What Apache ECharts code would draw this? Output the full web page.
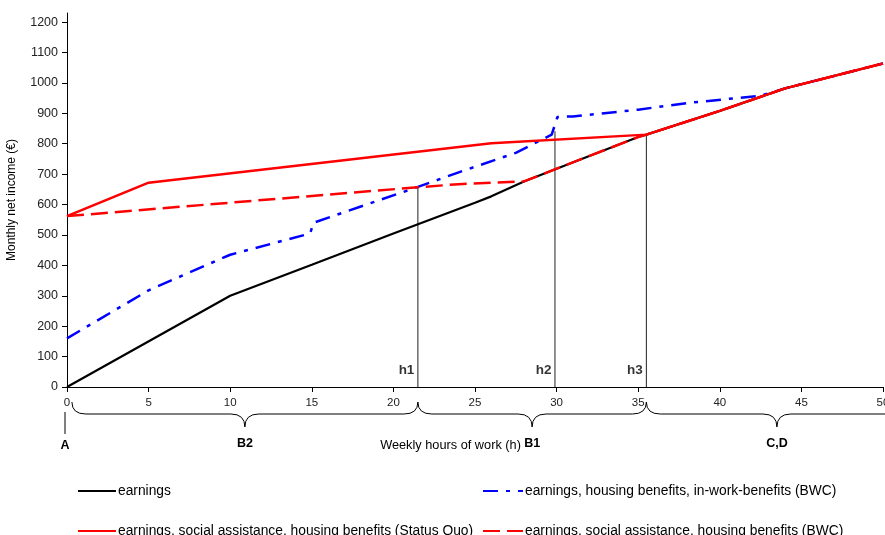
<!DOCTYPE html>
<html><head><meta charset="utf-8">
<script src="https://cdn.jsdelivr.net/npm/echarts@6/dist/echarts.min.js"></script>
<style>html,body{margin:0;padding:0;background:#fff}#c{width:885px;height:535px}</style>
</head><body><div id="c"></div>
<script>
// ---- data ----
const yTicks = [0,100,200,300,400,500,600,700,800,900,1000,1100,1200];
const xTicks = [0,5,10,15,20,25,30,35,40,45,50];
const earnings = [[0,0],[10,300],[15,402],[20,505],[25,606],[26,627],[28,676],[30,718],[35,822],[35.5,830],[40,908],[44,982],[50,1064]];
const blueBWC = [[0,160],[5,318],[10,435],[14.9,505],[15.1,540],[21.5,658],[24,706],[27.5,770],[29.7,830],[30.05,888],[31,890],[35,912],[38,934],[42.5,958],[44,982],[50,1064]];
const redStatusQuo = [[0,562],[5,672],[26,802],[35.5,830],[40,908],[44,982],[50,1064]];
const redBWC = [[0,562],[21.5,657],[24,667],[28,676],[30,718],[35,822],[35.5,830],[40,908],[44,982],[50,1064]];
const thresholds = [{name:'h1',x:21.5,top:658},{name:'h2',x:29.9,top:841},{name:'h3',x:35.5,top:830}];
const ranges = [{name:'B2',from:0.3,to:21.5},{name:'B1',from:21.5,to:35.5},{name:'C,D',from:35.5,to:51.5}];
const names = ['earnings','earnings, housing benefits, in-work-benefits (BWC)','earnings, social assistance, housing benefits (Status Quo)','earnings, social assistance, housing benefits (BWC)'];

const FONT = '"Liberation Sans", Arial, sans-serif';
const chart = echarts.init(document.getElementById('c'));

function legend(name, left, top, w){
  return {data:[name], left:left, top:top, itemWidth:w, itemHeight:10, itemGap:0, padding:0,
    itemStyle:{opacity:0}, textStyle:{fontFamily:FONT, fontSize:13.8, color:'#000', padding:[0,0,0,-3]}, selectedMode:false};
}

const series = [
  {name:names[0], type:'line', data:earnings, symbol:'none', lineStyle:{color:'#000', width:2.2}, itemStyle:{color:'#000'}, z:2},
  {name:names[1], type:'line', data:blueBWC, symbol:'none', lineStyle:{color:'#0000ff', width:2.5, type:[15,8,4,8]}, itemStyle:{color:'#0000ff'}, z:3},
  {name:names[3], type:'line', data:redBWC, symbol:'none', lineStyle:{color:'#ff0000', width:2.5, type:[17,7]}, itemStyle:{color:'#ff0000'}, z:4},
  {name:names[2], type:'line', data:redStatusQuo, symbol:'none', lineStyle:{color:'#ff0000', width:2.5}, itemStyle:{color:'#ff0000'}, z:5}
];
thresholds.forEach(t => {
  series.push({type:'line', data:[[t.x,0],[t.x,t.top]], symbol:'none', lineStyle:{color:'#222', width:1}, z:1, silent:true});
  series.push({type:'scatter', data:[[t.x,55]], symbolSize:1, itemStyle:{color:'rgba(0,0,0,0)'}, silent:true,
    label:{show:true, position:'left', distance:3, formatter:t.name, fontFamily:FONT, fontSize:13.5, fontWeight:'bold', color:'#000'}});
});

chart.setOption({
  animation:false,
  grid:{left:67, right:2, top:13, bottom:148, outerBoundsMode:'none', containLabel:false},
  xAxis:{type:'value', min:0, max:50, interval:5,
    axisLine:{lineStyle:{color:'#000'}}, axisTick:{length:5, lineStyle:{color:'#000'}},
    axisLabel:{fontFamily:FONT, fontSize:11.5, color:'#222', margin:10, customValues:xTicks, formatter:v=>String(v)},
    splitLine:{show:false}},
  yAxis:{type:'value', min:0, max:1230, interval:100,
    name:'Monthly net income (€)', nameLocation:'middle', nameGap:49, nameRotate:90,
    nameTextStyle:{fontFamily:FONT, fontSize:12, color:'#000'},
    axisLine:{show:true, lineStyle:{color:'#000'}}, axisTick:{show:true, length:5, lineStyle:{color:'#000'}, customValues:yTicks},
    axisLabel:{fontFamily:FONT, fontSize:12.5, color:'#222', margin:9, customValues:yTicks, formatter:v=>String(v)},
    splitLine:{show:false}},
  legend:[legend(names[0],77,484,38), legend(names[1],482,484,40), legend(names[2],77,524,38), legend(names[3],482,524,40)],
  series:series
});

// annotations below the axis (braces and range labels), positioned with the axis scale
const g = [];
const p0 = chart.convertToPixel({gridIndex:0},[0,0]);
const axisY = p0[1];
const y0 = axisY+15, yb = axisY+27, ytip = axisY+40, r = 14;
const st = {stroke:'#000', lineWidth:1, fill:null};
ranges.forEach(rg => {
  const x1 = chart.convertToPixel({gridIndex:0},[rg.from,0])[0];
  const x2 = chart.convertToPixel({gridIndex:0},[rg.to,0])[0];
  const xc = (x1+x2)/2;
  g.push({type:'bezierCurve', shape:{x1:x1,y1:y0,cpx1:x1,cpy1:yb,x2:x1+r,y2:yb}, style:st});
  g.push({type:'line', shape:{x1:x1+r,y1:yb,x2:xc-r,y2:yb}, style:st});
  g.push({type:'bezierCurve', shape:{x1:xc-r,y1:yb,cpx1:xc,cpy1:yb,x2:xc,y2:ytip}, style:st});
  g.push({type:'bezierCurve', shape:{x1:xc,y1:ytip,cpx1:xc,cpy1:yb,x2:xc+r,y2:yb}, style:st});
  g.push({type:'line', shape:{x1:xc+r,y1:yb,x2:x2-r,y2:yb}, style:st});
  g.push({type:'bezierCurve', shape:{x1:x2-r,y1:yb,cpx1:x2,cpy1:yb,x2:x2,y2:y0}, style:st});
  g.push({type:'text', x:xc, y:axisY+57, style:{text:rg.name, font:'bold 12.5px '+FONT, fill:'#000', align:'center', verticalAlign:'middle'}});
});
g.push({type:'line', shape:{x1:p0[0]-2, y1:axisY+25, x2:p0[0]-2, y2:axisY+47}, style:st});
g.push({type:'text', x:p0[0]-2, y:axisY+59, style:{text:'A', font:'bold 12.5px '+FONT, fill:'#000', align:'center', verticalAlign:'middle'}});
const xn = chart.convertToPixel({gridIndex:0},[23.5,0])[0];
g.push({type:'text', x:xn, y:axisY+58, style:{text:'Weekly hours of work (h)', font:'12.75px '+FONT, fill:'#000', align:'center', verticalAlign:'middle'}});
chart.setOption({graphic:g});
</script></body></html>
